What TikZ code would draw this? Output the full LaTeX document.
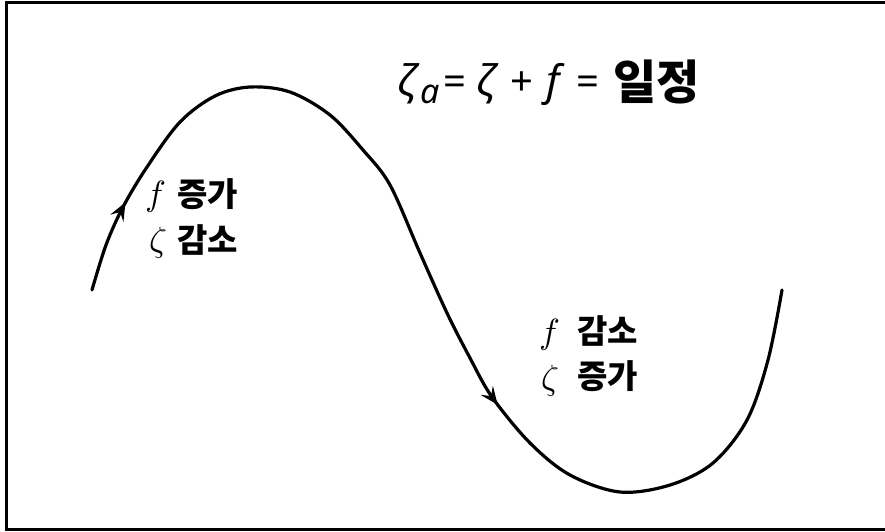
\documentclass[tikz,border=0pt]{standalone}
\usepackage{fontspec}
\setmainfont{Liberation Sans}
\newfontfamily\kr{Noto Sans CJK KR}
\newfontfamily\ttlfont{Noto Sans}
\newfontfamily\lmm{Latin Modern Math}
\usetikzlibrary{arrows.meta,decorations.markings}
\begin{document}
\begin{tikzpicture}[x=1pt,y=-1pt,
  curve/.style={line width=3.2pt,line cap=round},
  frameline/.style={line width=3pt},
  krlbl/.style={inner sep=0pt,anchor=west,font=\kr\bfseries\fontsize{33}{36}\selectfont},
  mathlbl/.style={inner sep=0pt,anchor=center,font=\lmm\fontsize{35}{40}\selectfont},
  ttl/.style={inner sep=0pt,anchor=base,font=\ttlfont\itshape\fontsize{42}{46}\selectfont},
  ttlop/.style={inner sep=0pt,anchor=base,font=\ttlfont\fontsize{40}{44}\selectfont},
  midarrows/.style={postaction={decorate},decoration={markings,
     mark=at position 94pt with {\arrow{Stealth[length=18pt,width=15pt,inset=7pt]}},
     mark=at position 696pt with {\arrow{Stealth[length=18pt,width=15pt,inset=7pt]}}}}]
\useasboundingbox (0,0) rectangle (885,531);
\fill[white] (0,0) rectangle (885,531);
% frame (open on the right)
\draw[frameline] (885,2) -- (6,2) -- (6,529) -- (885,529);
% curve
\draw[curve,midarrows] plot[smooth,tension=0.55] coordinates {
 (92,290) (106,245) (123,207) (147,167) (180,122) (215,96) (250,87)
 (290,92) (330,115) (363,150) (390,185) (420,253) (447,313) (470,358)
 (492,397) (530,443) (570,475) (620,492) (670,485) (713,463) (747,420)
 (768,360) (782,290)};
% title
\node[ttl] (z1) at (407,95) {ζ};
\node[ttl,font=\ttlfont\itshape\fontsize{34}{38}\selectfont] (za) at (430,103) {a};
\node[ttlop] (eq1) at (455,95) {=};
\node[ttl] (z2) at (486,95) {ζ};
\node[ttlop] (pl) at (522,95) {+};
\node[ttl] (ff) at (553,95) {f};
\node[ttlop] (eq2) at (588,95) {=};
\node[inner sep=0pt,anchor=west,font=\kr\bfseries\fontsize{47}{50}\selectfont] (ij) at (613,82) {일정};
% left labels
\node[mathlbl] (fl) at (154,197) {𝑓};
\node[krlbl] (fli) at (177,194) {증가};
\node[mathlbl] (zl) at (157,243) {𝜁};
\node[krlbl] (zld) at (177,240) {감소};
% right labels
\node[mathlbl] (fr) at (548,335) {𝑓};
\node[krlbl] (frd) at (577,331) {감소};
\node[mathlbl] (zr) at (549,381) {𝜁};
\node[krlbl] (zri) at (577,376) {증가};
\end{tikzpicture}
\end{document}
